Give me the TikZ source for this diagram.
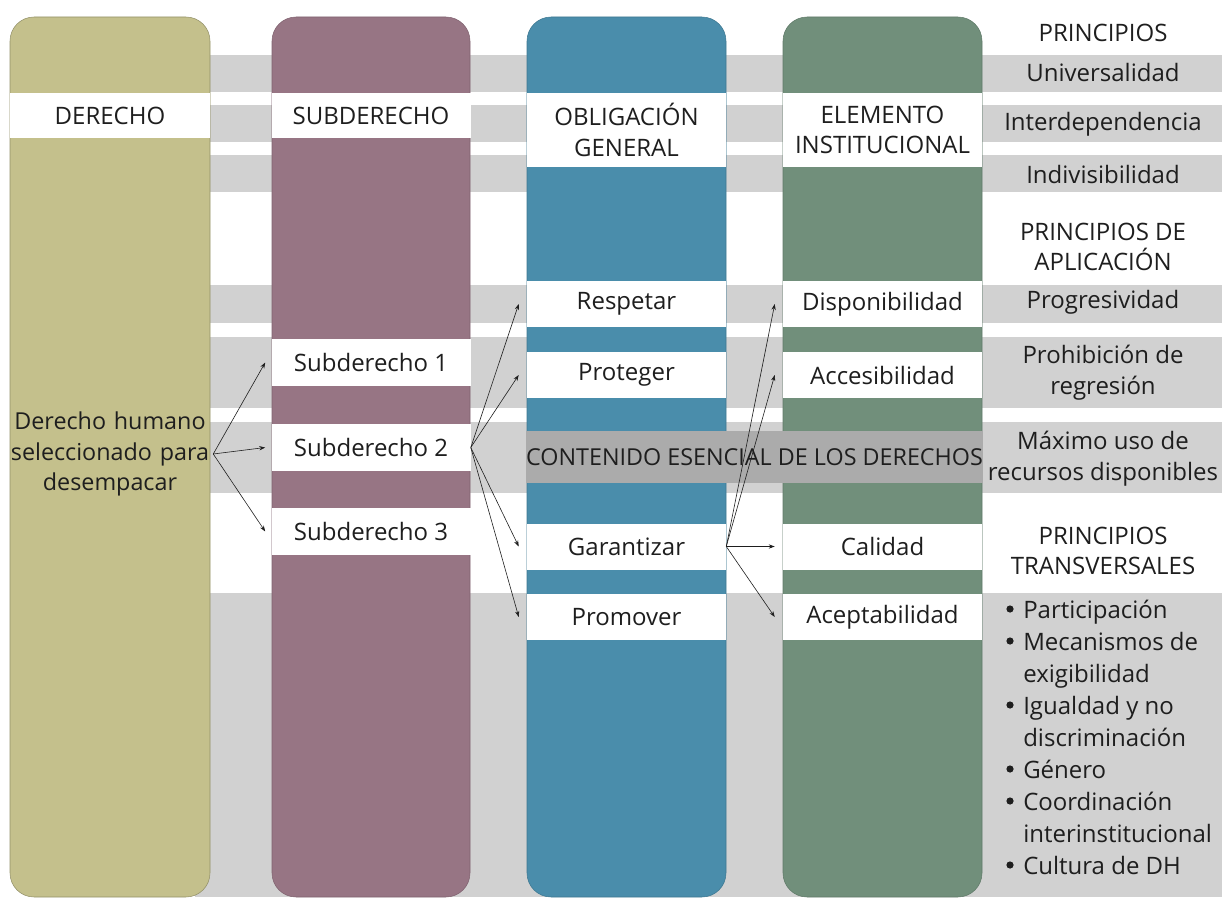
\documentclass[tikz,border=0pt]{standalone}
\usepackage{fontspec}
\setmainfont{Open Sans}
\usetikzlibrary{arrows.meta}
\definecolor{olivec}{HTML}{C4C08C}
\definecolor{mauvec}{HTML}{977584}
\definecolor{bluec}{HTML}{4A8DAB}
\definecolor{greenc}{HTML}{718F7B}
\definecolor{bandc}{HTML}{D1D1D1}
\definecolor{darkband}{HTML}{ABABAB}
\definecolor{ink}{HTML}{1E1E1E}
\begin{document}
\begin{tikzpicture}[x=0.75pt,y=-0.75pt,
  col/.style={rounded corners=18pt, line width=0.4pt},
  band/.style={fill=bandc},
  txt/.style={align=center, inner sep=0pt, text=ink, font=\fontsize{18}{23}\selectfont},
  wbox/.style={txt, fill=white, minimum width=149.25pt},
  bulletdot/.style={fill=ink},
  arr/.style={-{Stealth[length=4.5pt,width=3.2pt]}, line width=0.45pt, draw=ink}]
\useasboundingbox (0,0) rectangle (1222,899);
% horizontal bands
\foreach \a/\b in {55/92,105/142,155/192,285/323,337/408,422/493,593/897}
  \fill[band] (195,\a) rectangle (1222,\b);
% columns
\draw[col, fill=olivec, draw=olivec!75!black] (10,17) rectangle (210,897);
\draw[col, fill=mauvec, draw=mauvec!85!black] (272,17) rectangle (470,897);
\draw[col, fill=bluec, draw=bluec!85!black] (527,17) rectangle (726,897);
\draw[col, fill=greenc, draw=greenc!85!black] (783,17) rectangle (982,897);
% headers
\node[wbox, minimum width=150pt, minimum height=33.75pt] (hder) at (110,115.5) {DERECHO};
\node[wbox, minimum height=33.75pt] (hsub) at (371,115.5) {SUBDERECHO};
\node[wbox, minimum height=55.5pt] (hobl) at (626.5,130) {OBLIGACIÓN\\GENERAL};
\node[wbox, minimum height=55.5pt] (hele) at (882.5,130) {ELEMENTO\\INSTITUCIONAL};
% derecho text
\node[txt, font=\fontsize{17.5}{23}\selectfont, text width=150pt, inner xsep=2.25pt] (dh) at (110,454) {Derecho humano\\seleccionado para\\desempacar};
% subderechos
\node[wbox, minimum height=35.25pt] (s1) at (371,362.5) {Subderecho 1};
\node[wbox, minimum height=35.25pt] (s2) at (371,447.5) {Subderecho 2};
\node[wbox, minimum height=35.25pt] (s3) at (371,531.5) {Subderecho 3};
% obligaciones
\node[wbox, minimum height=34.5pt] (o1) at (626.5,304) {Respetar};
\node[wbox, minimum height=34.5pt] (o2) at (626.5,375) {Proteger};
\node[wbox, minimum height=34.5pt] (o3) at (626.5,546.5) {Garantizar};
\node[wbox, minimum height=34.5pt] (o4) at (626.5,617) {Promover};
% elementos
\node[wbox, minimum height=34.5pt] (e1) at (882.5,304) {Disponibilidad};
\node[wbox, minimum height=34.5pt] (e2) at (882.5,375) {Accesibilidad};
\node[wbox, minimum height=34.5pt] (e3) at (882.5,546.5) {Calidad};
\node[wbox, minimum height=34.5pt] (e4) at (882.5,617) {Aceptabilidad};
% contenido esencial
\node[txt, font=\fontsize{17.5}{23}\selectfont, fill=darkband, minimum width=341.25pt, minimum height=39pt] (ce) at (754.5,457) {CONTENIDO ESENCIAL DE LOS DERECHOS};
% right column
\node[txt] (p0) at (1103,33) {PRINCIPIOS};
\node[txt] (p1) at (1103,73) {Universalidad};
\node[txt] (p2) at (1103,124) {Interdependencia};
\node[txt] (p3) at (1103,175) {Indivisibilidad};
\node[txt] (pa) at (1103,247) {PRINCIPIOS DE\\APLICACIÓN};
\node[txt] (pa1) at (1103,302) {Progresividad};
\node[txt] (pa2) at (1103,373) {Prohibición de\\regresión};
\node[txt] (pa3) at (1103,459) {Máximo uso de\\recursos disponibles};
\node[txt] (pt) at (1103,551) {PRINCIPIOS\\TRANSVERSALES};
\node[txt, anchor=west, align=left] (pt1) at (1023,740.5) {\fontsize{18}{24}\selectfont
  \begin{tabular}{@{}l@{}}
  Participación\\
  Mecanismos de\\
  exigibilidad\\
  Igualdad y no\\
  discriminación\\
  Género\\
  Coordinación\\
  interinstitucional\\
  Cultura de DH
  \end{tabular}};
\foreach \k in {0,1,3,5,6,8}
  \fill[bulletdot] (1010,{609+32*\k}) circle (2.7pt);
% connectors
\foreach \t in {s1,s2,s3}
  \draw[arr] (dh.east) -- ([xshift=-4.5pt]\t.west);
\foreach \t in {o1,o2,o3,o4}
  \draw[arr] (s2.east) -- ([xshift=-6pt]\t.west);
\foreach \t in {e1,e2,e3,e4}
  \draw[arr] (o3.east) -- ([xshift=-6pt]\t.west);
\end{tikzpicture}
\end{document}
